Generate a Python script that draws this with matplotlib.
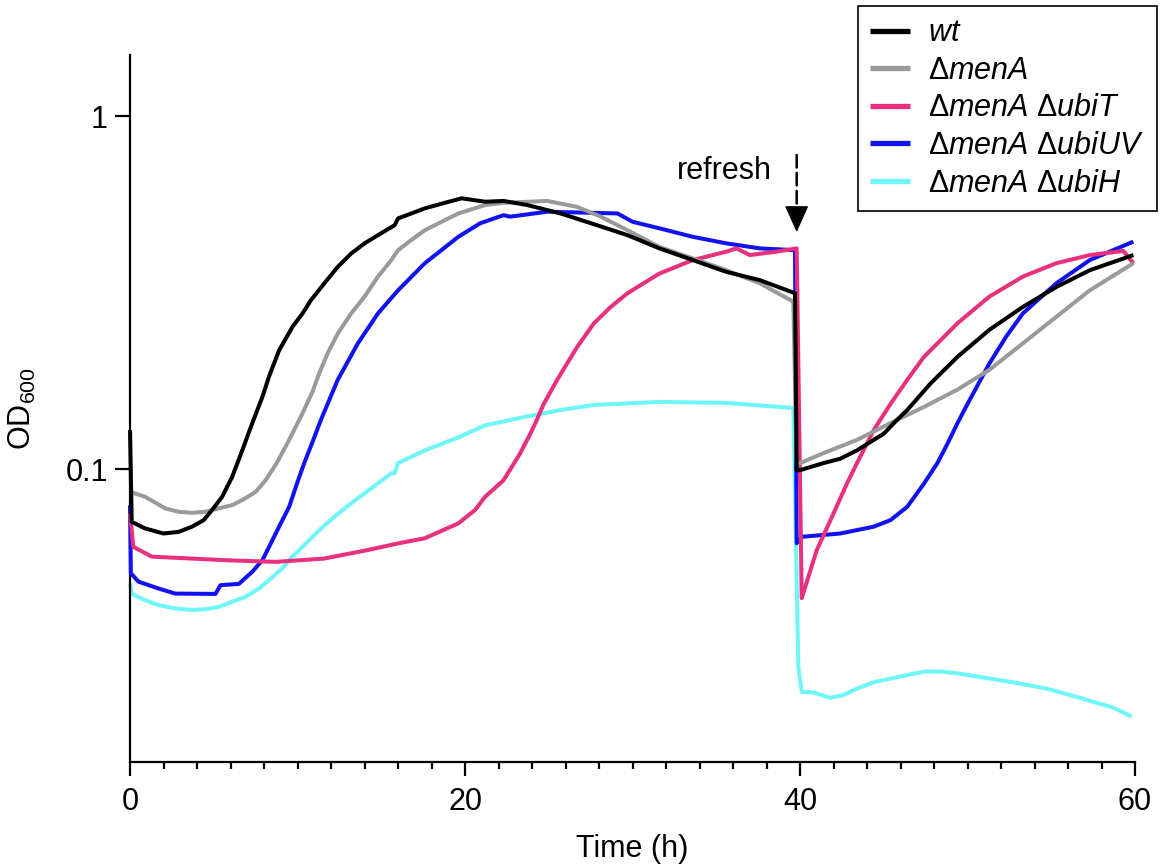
import matplotlib
matplotlib.use("Agg")
import matplotlib.pyplot as plt
from matplotlib.ticker import FixedLocator, MultipleLocator, NullLocator

plt.rcParams['font.family'] = ['Liberation Sans', 'DejaVu Sans']
plt.rcParams['mathtext.fontset'] = 'custom'
plt.rcParams['mathtext.rm'] = 'Liberation Sans'
plt.rcParams['mathtext.it'] = 'Liberation Sans:italic'

# growth curves, OD600 vs time (h); cultures refreshed at ~40 h
wt_t = [0, 0.1, 0.9, 2.0, 2.9, 3.7, 4.4, 4.9, 5.5, 6.1, 6.7, 7.3, 7.9, 8.3, 8.9, 9.7,
        10.3, 10.8, 11.6, 12.4, 13.2, 14.0, 14.8, 15.8, 16.0, 16.8, 17.6, 18.8, 19.8,
        21.2, 22.3, 23.7, 25.7, 27.7, 29.7, 31.6, 33.6, 35.6, 37.6, 39.7, 39.8, 40.0,
        41.4, 42.4, 43.4, 44.4, 45.0, 45.8, 46.4, 47.8, 49.4, 51.3, 53.3, 55.3, 57.3,
        59.9]
wt_od = [0.129, 0.0709, 0.0679, 0.0657, 0.0664, 0.0687, 0.0717, 0.0766, 0.0835, 0.0951,
         0.113, 0.135, 0.160, 0.183, 0.217, 0.253, 0.276, 0.301, 0.336, 0.374, 0.408,
         0.436, 0.460, 0.491, 0.513, 0.530, 0.548, 0.568, 0.585, 0.572, 0.575, 0.560,
         0.530, 0.494, 0.460, 0.422, 0.391, 0.362, 0.343, 0.315, 0.0993, 0.0993, 0.104,
         0.107, 0.113, 0.121, 0.126, 0.138, 0.147, 0.175, 0.208, 0.248, 0.288, 0.328,
         0.366, 0.404]

menA_t = [0, 0.9, 2.1, 2.9, 3.7, 4.5, 5.3, 6.1, 6.7, 7.5, 8.1, 8.7, 9.3, 9.9, 10.3, 10.9,
          11.3, 11.8, 12.4, 13.2, 14.0, 14.8, 15.6, 16.0, 16.8, 17.6, 18.6, 19.6, 21.2,
          22.3, 24.9, 26.7, 28.1, 29.7, 31.6, 33.6, 35.6, 37.6, 39.6, 39.8, 41.4, 43.4,
          45.4, 47.4, 49.4, 51.3, 53.3, 55.3, 57.3, 59.9]
menA_od = [0.0862, 0.0835, 0.0774, 0.0757, 0.0752, 0.0757, 0.0774, 0.0791, 0.0817,
           0.0862, 0.0931, 0.103, 0.116, 0.132, 0.144, 0.166, 0.187, 0.213, 0.242, 0.276,
           0.308, 0.351, 0.391, 0.417, 0.446, 0.475, 0.502, 0.530, 0.560, 0.568, 0.575,
           0.553, 0.519, 0.475, 0.426, 0.395, 0.366, 0.336, 0.298, 0.103, 0.111, 0.121,
           0.135, 0.150, 0.168, 0.191, 0.227, 0.270, 0.321, 0.383]

ubiT_t = [0, 0.2, 1.3, 5.7, 8.7, 11.6, 14.2, 16.0, 17.6, 19.6, 20.6, 21.2, 22.3, 23.3,
          23.9, 24.2, 24.7, 25.5, 26.7, 27.7, 28.7, 29.7, 31.6, 33.6, 35.6, 36.2, 37.0,
          38.6, 39.8, 40.1, 41.0, 42.0, 42.8, 43.4, 44.4, 45.4, 46.4, 47.4, 48.4, 49.4,
          51.3, 53.3, 55.3, 57.3, 59.3, 59.9]
ubiT_od = [0.0749, 0.0602, 0.0565, 0.0552, 0.0546, 0.0558, 0.059, 0.0616, 0.0637, 0.0702,
           0.0766, 0.0835, 0.093, 0.111, 0.126, 0.135, 0.153, 0.179, 0.222, 0.259, 0.288,
           0.315, 0.358, 0.391, 0.413, 0.422, 0.404, 0.413, 0.422, 0.0431, 0.059, 0.0749,
           0.091, 0.104, 0.129, 0.153, 0.179, 0.208, 0.232, 0.259, 0.308, 0.351, 0.383,
           0.404, 0.415, 0.383]

ubiUV_t = [0, 0.05, 0.5, 1.7, 2.7, 5.1, 5.4, 6.5, 7.3, 7.9, 8.3, 8.9, 9.5, 10.0, 10.4,
           11.0, 11.4, 12.4, 13.6, 14.8, 16.0, 17.6, 19.6, 20.9, 22.3, 22.7, 24.9, 29.1,
           30.0, 31.6, 33.6, 35.6, 37.6, 39.7, 39.8, 40.1, 42.4, 44.4, 45.4, 46.4, 47.4,
           48.2, 48.8, 49.4, 50.0, 51.3, 52.3, 53.3, 55.3, 57.3, 59.9]
ubiUV_od = [0.079, 0.0507, 0.048, 0.0459, 0.0444, 0.0443, 0.0469, 0.0473, 0.0512, 0.0552,
            0.0602, 0.0687, 0.0782, 0.092, 0.104, 0.123, 0.138, 0.179, 0.227, 0.276, 0.321,
            0.383, 0.455, 0.497, 0.524, 0.519, 0.536, 0.530, 0.502, 0.481, 0.455, 0.436,
            0.422, 0.417, 0.0617, 0.0643, 0.0657, 0.0687, 0.0717, 0.0782, 0.091, 0.104,
            0.118, 0.135, 0.153, 0.199, 0.237, 0.276, 0.336, 0.391, 0.441]

ubiH_t = [0, 0.1, 0.9, 1.7, 2.7, 3.7, 4.5, 5.3, 6.1, 6.9, 7.7, 8.3, 9.1, 9.7, 10.5, 11.3,
          12.2, 13.2, 14.4, 15.6, 15.8, 16.0, 17.6, 19.6, 21.2, 23.7, 25.7, 27.7, 31.6,
          35.6, 39.6, 39.9, 40.1, 40.8, 41.8, 42.6, 43.4, 44.4, 45.4, 46.4, 47.4, 48.4,
          49.4, 50.7, 52.7, 54.7, 56.7, 58.7, 59.8]
ubiH_od = [0.0474, 0.0444, 0.0425, 0.0412, 0.0403, 0.0399, 0.0401, 0.0407, 0.0421, 0.0435,
           0.0459, 0.0485, 0.0524, 0.0565, 0.0616, 0.0672, 0.0733, 0.080, 0.0882, 0.0973,
           0.0975, 0.104, 0.113, 0.123, 0.133, 0.141, 0.147, 0.152, 0.155, 0.154, 0.149,
           0.0275, 0.0234, 0.0233, 0.0225, 0.0229, 0.0239, 0.0249, 0.0255, 0.0261, 0.0267,
           0.0267, 0.0264, 0.0258, 0.0249, 0.0239, 0.0225, 0.0211, 0.0199]

labels = [r'$\mathit{wt}$',
          r'$\Delta\mathit{menA}$',
          r'$\Delta\mathit{menA}\ \Delta\mathit{ubiT}$',
          r'$\Delta\mathit{menA}\ \Delta\mathit{ubiUV}$',
          r'$\Delta\mathit{menA}\ \Delta\mathit{ubiH}$']
colors = ['#000000', '#9a9a9a', '#e8307e', '#1212ee', '#6ef6f8']
x_ticks = [0, 20, 40, 60]
y_ticks = [0.1, 1]
y_tick_labels = ['0.1', '1']
refresh_time = 39.8


if __name__ == '__main__':
    fig = plt.figure(figsize=(11.62, 8.67), dpi=100)
    ax = fig.add_axes([0.1119, 0.1211, 0.8649, 0.8155])

    series = [(wt_t, wt_od), (menA_t, menA_od), (ubiT_t, ubiT_od),
              (ubiUV_t, ubiUV_od), (ubiH_t, ubiH_od)]
    zorders = [6, 5, 4, 3, 2]
    handles = []
    for (t, od), label, color, z in zip(series, labels, colors, zorders):
        line, = ax.plot(t, od, color=color, lw=2.9, label=label, zorder=z,
                        solid_joinstyle='round', solid_capstyle='butt', clip_on=False)
        handles.append(line)

    ax.set_yscale('log')
    ax.set_xlim(0, 60)
    ax.set_ylim(0.0148, 1.49)

    ax.xaxis.set_major_locator(FixedLocator(x_ticks))
    ax.xaxis.set_minor_locator(MultipleLocator(2))
    ax.yaxis.set_major_locator(FixedLocator(y_ticks))
    ax.yaxis.set_minor_locator(NullLocator())
    ax.set_yticklabels(y_tick_labels)

    for side in ['top', 'right']:
        ax.spines[side].set_visible(False)
    for side in ['left', 'bottom']:
        ax.spines[side].set_linewidth(1.6)

    ax.tick_params(axis='x', which='major', length=10, width=1.6, pad=8, labelsize=22)
    ax.tick_params(axis='x', which='minor', length=5, width=1.6)
    ax.tick_params(axis='y', which='major', length=11, width=1.6, pad=5, labelsize=22)

    ax.set_xlabel('Time (h)', fontsize=22, labelpad=12)
    ax.set_ylabel('OD$_{600}$', fontsize=22, labelpad=20)

    # refresh marker: dashed shaft, solid head
    ax.annotate('', xy=(refresh_time, 0.549), xytext=(refresh_time, 0.776),
                arrowprops=dict(arrowstyle='-', color='black', lw=1.8,
                                linestyle=(0, (5, 2.2)), shrinkA=0, shrinkB=0))
    ax.annotate('', xy=(refresh_time, 0.469), xytext=(refresh_time, 0.549),
                arrowprops=dict(arrowstyle='-|>,head_length=0.85,head_width=0.38',
                                mutation_scale=20, color='black', lw=1.0,
                                shrinkA=0, shrinkB=0))
    ax.text(38.3, 0.70, 'refresh', fontsize=22, ha='right', va='center')

    leg = ax.legend(handles=handles, loc='upper right',
                    bbox_to_anchor=(1157 / 1162, 1 - 6 / 867),
                    bbox_transform=fig.transFigure, borderaxespad=0,
                    fontsize=22, frameon=True, fancybox=False, framealpha=1,
                    handlelength=1.3, handletextpad=0.6, labelspacing=0.25,
                    borderpad=0.4)
    leg.get_frame().set_edgecolor('black')
    leg.get_frame().set_linewidth(1.2)
    for h in leg.get_lines():
        h.set_linewidth(3.8)

    fig.savefig('out.png', dpi=100)
    plt.close(fig)
